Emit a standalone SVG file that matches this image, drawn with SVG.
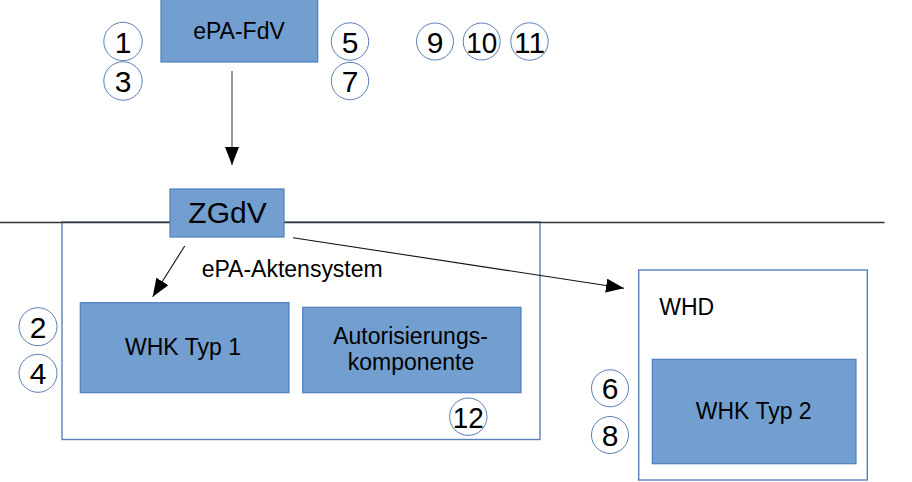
<svg xmlns="http://www.w3.org/2000/svg" width="912" height="482" viewBox="0 0 912 482">
  <style>
    .box { fill: #729fcf; stroke: #4f7fbf; stroke-width: 1.2; }
    .frame { fill: #ffffff; stroke: #5a80bd; stroke-width: 1.4; }
    .lbl { font-family: "Liberation Sans", Arial, sans-serif; font-size: 23px; fill: #000000; }
    .num circle { fill: #ffffff; stroke: #4a6fab; stroke-width: 0.9; }
    .num text { font-family: "Liberation Sans", Arial, sans-serif; font-size: 30px; fill: #000000; text-anchor: middle; }
    .conn { stroke: #111111; stroke-width: 1.1; fill: none; marker-end: url(#arrow); }
  </style>
  <defs>
    <marker id="arrow" markerUnits="userSpaceOnUse" markerWidth="20" markerHeight="16" refX="18" refY="7" orient="auto">
      <path d="M0,0 L18,7 L0,14 Z" fill="#000000"/>
    </marker>
  </defs>

  <g id="aktensystem">
    <rect class="frame" x="62" y="222" width="478" height="217.5"/>
    <text class="lbl" x="201.7" y="276.7" textLength="181" lengthAdjust="spacing">ePA-Aktensystem</text>
  </g>

  <g id="boundary">
    <line x1="0" y1="222.5" x2="884.5" y2="222.5" stroke="#333333" stroke-width="1.4"/>
  </g>

  <g id="whd">
    <rect class="frame" x="638.7" y="270" width="228.6" height="210"/>
    <text class="lbl" x="659.3" y="315">WHD</text>
  </g>

  <g id="epa-fdv">
    <rect class="box" x="161" y="-1" width="156.7" height="63"/>
    <text class="lbl" x="239" y="39.3" text-anchor="middle">ePA-FdV</text>
  </g>

  <g id="zgdv">
    <rect class="box" x="170" y="189" width="114" height="48"/>
    <text class="lbl" x="227.5" y="222.7" text-anchor="middle" style="font-size:30px">ZGdV</text>
  </g>

  <g id="whk-typ-1">
    <rect class="box" x="80.3" y="302.7" width="208.7" height="90"/>
    <text class="lbl" x="183" y="355" text-anchor="middle">WHK Typ 1</text>
  </g>

  <g id="autorisierungskomponente">
    <rect class="box" x="302.7" y="307.3" width="218.3" height="85.4"/>
    <text class="lbl" x="410.5" y="344.3" text-anchor="middle">Autorisierungs-</text>
    <text class="lbl" x="411" y="370" text-anchor="middle">komponente</text>
  </g>

  <g id="whk-typ-2">
    <rect class="box" x="652.3" y="359.3" width="203.7" height="104.4"/>
    <text class="lbl" x="753.7" y="419.3" text-anchor="middle">WHK Typ 2</text>
  </g>

  <g id="connectors">
    <line class="conn" x1="232" y1="71" x2="232" y2="165" style="stroke:#444444"/>
    <line class="conn" x1="184.7" y1="246" x2="152.7" y2="296.7"/>
    <line class="conn" x1="293" y1="237.7" x2="624" y2="288.3"/>
  </g>

  <g id="markers">
    <g class="num" id="n1"><circle cx="123" cy="41.5" r="19.2"/><text x="123" y="52.5">1</text></g>
    <g class="num" id="n3"><circle cx="123" cy="81" r="19.2"/><text x="123" y="92">3</text></g>
    <g class="num" id="n5"><circle cx="350" cy="41.5" r="18.7"/><text x="350" y="52.5">5</text></g>
    <g class="num" id="n7"><circle cx="350" cy="81" r="18.7"/><text x="350" y="92">7</text></g>
    <g class="num" id="n9"><circle cx="435" cy="41.5" r="18.5"/><text x="435" y="52.5">9</text></g>
    <g class="num" id="n10"><circle cx="481.7" cy="41.5" r="18.5"/><text x="481.7" y="52.5" textLength="31" lengthAdjust="spacingAndGlyphs">10</text></g>
    <g class="num" id="n11"><circle cx="529.5" cy="41.5" r="18.7"/><text x="529.5" y="52.5" textLength="31" lengthAdjust="spacingAndGlyphs">11</text></g>
    <g class="num" id="n2"><circle cx="38" cy="326.7" r="19"/><text x="38" y="337.7">2</text></g>
    <g class="num" id="n4"><circle cx="38" cy="373.3" r="19"/><text x="38" y="384.3">4</text></g>
    <g class="num" id="n12"><circle cx="468.3" cy="416.7" r="18.7"/><text x="468.3" y="427.7" textLength="31" lengthAdjust="spacingAndGlyphs">12</text></g>
    <g class="num" id="n6"><circle cx="610" cy="388.3" r="18.5"/><text x="610" y="399.3">6</text></g>
    <g class="num" id="n8"><circle cx="610" cy="435" r="18.5"/><text x="610" y="446">8</text></g>
  </g>
</svg>
